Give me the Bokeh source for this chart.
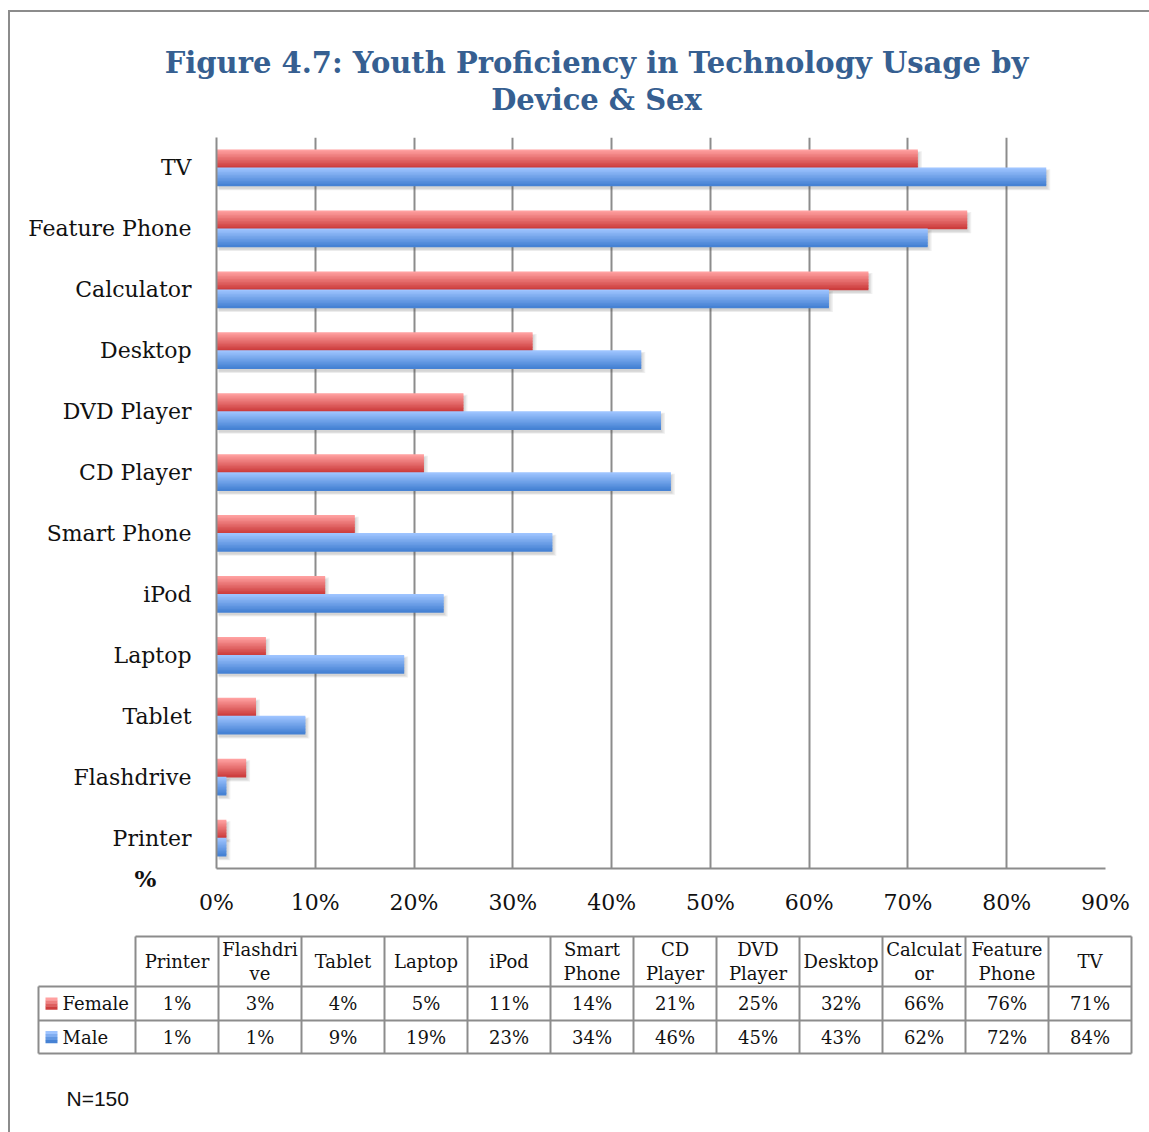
from bokeh.plotting import figure
from bokeh.layouts import column
from bokeh.models import Range1d, FactorRange, FixedTicker, PrintfTickFormatter, Label, ColumnDataSource
from bokeh.transform import dodge
from bokeh.core.properties import value
from bokeh.embed import file_html
from bokeh.resources import INLINE

# ---------------- data ----------------
devices = ["Printer", "Flashdrive", "Tablet", "Laptop", "iPod", "Smart Phone",
           "CD Player", "DVD Player", "Desktop", "Calculator", "Feature Phone", "TV"]
female = [1, 3, 4, 5, 11, 14, 21, 25, 32, 66, 76, 71]
male = [1, 1, 9, 19, 23, 34, 46, 45, 43, 62, 72, 84]
table_headers = ["Printer", "Flashdri\nve", "Tablet", "Laptop", "iPod", "Smart\nPhone",
                 "CD\nPlayer", "DVD\nPlayer", "Desktop", "Calculat\nor", "Feature\nPhone", "TV"]
series_names = ["Female", "Male"]
x_ticks = [0, 10, 20, 30, 40, 50, 60, 70, 80, 90]
title_lines = ["Figure 4.7: Youth Proficiency in Technology Usage by", "Device & Sex"]
axis_unit = "%"
note = "N=150"

# ---------------- styles ----------------
SERIF = "DejaVu Serif"
TITLE_COLOR = "#365F91"
GRID = "#8c8c8c"
F_TOP, F_BOT = (255, 160, 160), (205, 62, 62)
M_TOP, M_BOT = (158, 196, 255), (70, 130, 212)


def lerp(c1, c2, t):
    return "#%02x%02x%02x" % tuple(int(round(a + (b - a) * t)) for a, b in zip(c1, c2))


def no_align(fig):
    try:
        fig.frame_align = False
    except Exception:
        pass


W = 1139  # content width (page x from 10 to 1149)

# ---------------- title figure ----------------
pt = figure(width=W, height=116, x_range=Range1d(10, 1149), y_range=Range1d(128, 12),
            output_backend="svg", toolbar_location=None, x_axis_location=None,
            y_axis_location=None, min_border=0, outline_line_color=None)
no_align(pt)
pt.grid.visible = False
pt.text(x=[596, 596], y=[62, 99], text=title_lines, text_font=value(SERIF),
        text_font_style="bold", text_font_size="29px", text_color=TITLE_COLOR,
        text_align="center", text_baseline="middle")

# ---------------- chart figure ----------------
p = figure(width=W, height=797, y_range=FactorRange(factors=devices),
           x_range=Range1d(0, 90), output_backend="svg", toolbar_location=None,
           min_border_left=206, min_border_right=44, min_border_top=9,
           min_border_bottom=57, outline_line_color=None)
no_align(p)
p.ygrid.visible = False
p.xgrid.ticker = FixedTicker(ticks=x_ticks)
p.xgrid.grid_line_color = GRID
p.xgrid.grid_line_width = 2

p.xaxis.ticker = FixedTicker(ticks=x_ticks)
p.xaxis.formatter = PrintfTickFormatter(format="%d%%")
for ax in (p.xaxis[0], p.yaxis[0]):
    ax.axis_line_color = GRID
    ax.axis_line_width = 2
    ax.major_tick_line_color = None
    ax.minor_tick_line_color = None
    ax.major_tick_out = 0
    ax.major_tick_in = 0
    ax.major_label_text_font = SERIF
    ax.major_label_text_font_size = "22px"
    ax.major_label_text_color = "#111111"
p.xaxis.major_label_standoff = 21
p.yaxis.major_label_standoff = 25

src = ColumnDataSource(dict(device=devices, female=female, male=male))
BAR_H = 0.295
N = 12
step = BAR_H / N

# soft drop shadows (drawn behind the bars)
for col, base in (("female", BAR_H / 2), ("male", -BAR_H / 2)):
    for j in range(3):
        p.hbar(y=dodge("device", base - 0.045, range=p.y_range), left=0.2,
               right=dodge(col, 0.12 + 0.14 * j), height=BAR_H + 0.025 * j,
               source=src, fill_color="#444444", fill_alpha=0.08, line_color=None)

for col, top, bot, y_top in (("female", F_TOP, F_BOT, BAR_H), ("male", M_TOP, M_BOT, 0.0)):
    for k in range(N):
        t = k / (N - 1)
        p.hbar(y=dodge("device", y_top - step * (k + 0.5), range=p.y_range), left=0,
               right=col, height=step * 1.5, source=src,
               fill_color=lerp(top, bot, t), line_color=None)

# unit label below the category axis (side panel so it is not clipped to the frame)
p.add_layout(Label(x=-7.2, y=-0.17, text=axis_unit, text_font=SERIF,
                   text_font_style="bold", text_font_size="23px",
                   text_align="center", text_baseline="middle", text_color="#111111"),
             "right")

# ---------------- table figure ----------------
pb = figure(width=W, height=207, x_range=Range1d(10, 1149), y_range=Range1d(1132, 925),
            output_backend="svg", toolbar_location=None, x_axis_location=None,
            y_axis_location=None, min_border=0, outline_line_color=None)
no_align(pb)
pb.grid.visible = False

T_LEFT, COL_W, LEG_LEFT = 135, 83, 38
ROWS = [936, 986, 1020, 1053]
ncol = len(table_headers)
T_RIGHT = T_LEFT + COL_W * ncol

x0, y0, x1, y1 = [], [], [], []
x0.append(T_LEFT); x1.append(T_RIGHT); y0.append(ROWS[0]); y1.append(ROWS[0])
for r in ROWS[1:]:
    x0.append(LEG_LEFT); x1.append(T_RIGHT); y0.append(r); y1.append(r)
x0.append(LEG_LEFT); x1.append(LEG_LEFT); y0.append(ROWS[1]); y1.append(ROWS[3])
for i in range(ncol + 1):
    xx = T_LEFT + COL_W * i
    x0.append(xx); x1.append(xx); y0.append(ROWS[0]); y1.append(ROWS[3])
pb.segment(x0=x0, y0=y0, x1=x1, y1=y1, line_color=GRID, line_width=2)

hx, hy, ht = [], [], []
for i, h in enumerate(table_headers):
    parts = h.split("\n")
    cx = T_LEFT + COL_W * (i + 0.5)
    mid = (ROWS[0] + ROWS[1]) / 2
    if len(parts) == 1:
        hx.append(cx); hy.append(mid); ht.append(parts[0])
    else:
        hx += [cx, cx]; hy += [mid - 12, mid + 12]; ht += parts
pb.text(x=hx, y=hy, text=ht, text_font=value(SERIF), text_font_size="18px",
        text_color="#111111", text_align="center", text_baseline="middle")

for ri, vals in enumerate([female, male]):
    cy = (ROWS[ri + 1] + ROWS[ri + 2]) / 2
    pb.text(x=[T_LEFT + COL_W * (i + 0.5) for i in range(ncol)], y=[cy] * ncol,
            text=["%d%%" % v for v in vals], text_font=value(SERIF),
            text_font_size="18px", text_color="#111111", text_align="center",
            text_baseline="middle")
    pb.text(x=[62], y=[cy], text=[series_names[ri]], text_font=value(SERIF),
            text_font_size="18px", text_color="#111111", text_align="left",
            text_baseline="middle")
    top, bot = (F_TOP, F_BOT) if ri == 0 else (M_TOP, M_BOT)
    for k in range(4):
        pb.quad(left=[45], right=[57], top=[cy - 6 + 3 * k], bottom=[cy - 6 + 3 * k + 3.3],
                fill_color=lerp(top, bot, k / 3), line_color=None)

pb.text(x=[66], y=[1098], text=[note], text_font=value("Liberation Sans"),
        text_font_size="21px", text_color="#111111", text_align="left",
        text_baseline="middle")

layout = column(pt, p, pb, spacing=0,
                styles={"border-left": "2px solid #8c8c8c", "border-top": "2px solid #8c8c8c",
                        "margin-left": "8px", "margin-top": "10px"})

open("out.html", "w").write(file_html(layout, INLINE))
